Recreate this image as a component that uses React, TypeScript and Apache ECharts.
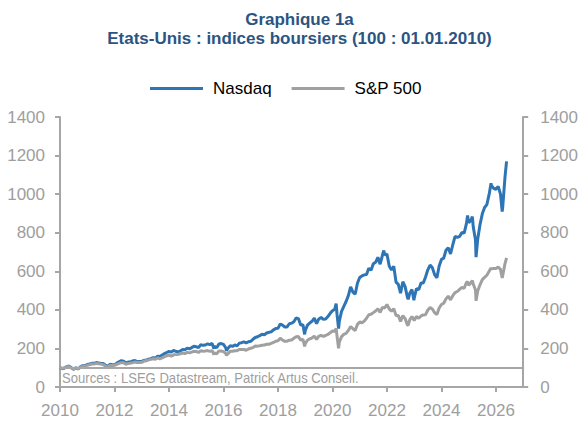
import React, { useEffect, useRef } from "react";
import * as echarts from "echarts";

const FONT = "'Liberation Sans Narrow', 'Arial Narrow', 'Liberation Sans', sans-serif";

// Month-end index levels (100 = 01.01.2010), first value = Dec 2009, then Jan 2010 ... Apr 2026
const nasdaqMonthly = [
  100,
  94.6, 98.6, 105.7, 108.5, 99.5, 92.9, 99.4, 93.2, 104.4, 110.5, 110.1, 116.9,
  119.0, 122.6, 122.6, 126.7, 124.9, 122.3, 121.5, 113.7, 106.4, 118.3, 115.5, 114.8,
  124.0, 130.8, 136.3, 134.2, 124.6, 129.4, 129.6, 135.2, 137.3, 131.2, 132.7, 133.1,
  138.5, 139.3, 144.0, 146.7, 152.3, 150.0, 159.8, 158.2, 166.2, 172.8, 178.9, 184.1,
  180.9, 189.9, 185.1, 181.4, 187.0, 194.3, 192.6, 201.9, 198.0, 204.1, 211.2, 208.7,
  204.3, 218.8, 216.0, 217.8, 223.4, 219.8, 226.0, 210.5, 203.6, 222.7, 225.2, 220.7,
  203.4, 200.9, 214.6, 210.4, 218.1, 213.4, 227.5, 229.8, 234.1, 228.7, 234.6, 237.2,
  247.5, 256.7, 260.6, 266.6, 273.2, 270.6, 279.8, 283.3, 286.3, 296.5, 303.0, 304.2,
  326.6, 320.5, 311.3, 311.4, 328.0, 331.0, 338.1, 357.4, 354.6, 322.0, 323.1, 292.4,
  320.9, 332.0, 340.6, 356.8, 328.5, 352.8, 360.3, 351.0, 352.5, 365.5, 381.9, 395.5,
  403.3, 377.6, 339.4, 391.8, 418.3, 443.3, 473.6, 519.0, 492.2, 480.9, 537.6, 568.0,
  576.1, 581.4, 583.8, 615.3, 606.0, 639.2, 646.7, 672.5, 636.8, 683.0, 684.8, 689.5,
  627.6, 606.0, 626.8, 543.6, 532.4, 486.1, 546.1, 520.8, 466.1, 484.3, 505.4, 461.3,
  510.6, 504.9, 538.7, 538.9, 570.1, 607.7, 632.3, 618.6, 582.6, 566.4, 627.0, 661.6,
  668.3, 709.2, 721.9, 690.1, 737.6, 781.5, 775.6, 780.7, 801.6, 797.5, 847.0, 851.1,
  865.0, 830.6, 762.4, 768.9, 842.4, 897.8, 930.9, 945.6, 998.7, 1045.6, 1029.8, 1024.3,
  1040, 1000, 935, 1090,
];

const spMonthly = [
  100,
  96.3, 99.0, 104.8, 106.5, 97.7, 92.5, 98.8, 94.1, 102.3, 106.1, 105.9, 112.8,
  115.3, 119.0, 118.9, 122.3, 120.6, 118.5, 115.9, 109.3, 101.4, 112.4, 111.8, 112.8,
  117.7, 122.5, 126.3, 125.4, 117.5, 122.2, 123.7, 126.2, 129.2, 126.6, 127.0, 127.9,
  134.3, 135.9, 140.7, 143.3, 146.3, 144.0, 151.2, 146.5, 150.9, 157.6, 162.0, 165.7,
  159.9, 166.7, 167.9, 169.0, 172.6, 175.8, 173.2, 179.6, 176.9, 181.0, 185.5, 184.7,
  178.9, 188.8, 185.5, 187.1, 189.0, 185.0, 188.7, 176.9, 172.2, 186.5, 186.5, 183.3,
  174.0, 173.3, 184.8, 185.2, 188.1, 188.3, 195.0, 194.7, 194.4, 190.7, 197.2, 200.8,
  204.4, 212.0, 211.9, 213.8, 216.3, 217.3, 221.5, 221.7, 225.9, 230.9, 237.5, 239.8,
  253.3, 243.4, 236.9, 237.5, 242.6, 243.8, 252.6, 260.3, 261.3, 243.2, 247.5, 224.8,
  242.5, 249.7, 254.2, 264.2, 246.8, 263.9, 267.3, 262.4, 267.0, 272.5, 281.7, 289.8,
  289.3, 264.9, 231.8, 261.2, 273.0, 278.0, 293.4, 313.9, 301.6, 293.3, 324.8, 336.9,
  333.1, 341.8, 356.3, 375.0, 377.0, 385.5, 394.2, 405.7, 386.4, 413.0, 409.6, 427.4,
  405.0, 392.3, 406.3, 370.6, 370.6, 339.5, 370.4, 354.7, 321.6, 347.3, 365.9, 344.4,
  365.7, 356.1, 368.5, 373.9, 374.9, 399.1, 411.6, 404.3, 384.6, 376.1, 409.7, 427.8,
  434.6, 457.0, 471.2, 451.7, 473.4, 489.7, 495.2, 506.6, 516.8, 511.7, 541.0, 527.5,
  541.8, 534.1, 503.3, 499.5, 530.2, 556.5, 568.5, 579.4, 599.8, 613.5, 614.3, 614.3,
  622, 610, 578, 640,
];

// Intra-month highs / lows [decimal year, index]
const nasdaqExtremes: [number, number][] = [
  [2010.505, 92.2], [2011.755, 102.9], [2015.65, 198.6], [2016.11, 188.1],
  [2018.98, 272.9], [2020.135, 432.7], [2020.225, 302.4], [2021.885, 707.7],
  [2022.78, 454.9], [2022.99, 450.1], [2024.96, 889.1], [2025.135, 883.9],
  [2025.27, 672.9], [2025.82, 1056], [2026.23, 910], [2026.39, 1170],
];
const spExtremes: [number, number][] = [
  [2010.505, 91.7], [2011.755, 98.6], [2015.65, 167.5], [2016.11, 164.0],
  [2018.98, 210.9], [2020.135, 303.7], [2020.225, 200.6], [2022.78, 320.8],
  [2024.96, 546.2], [2025.135, 551.0], [2025.27, 446.9], [2025.82, 617],
  [2026.23, 565], [2026.39, 670],
];

const startYear = 2010;
const yTicks = { min: 0, max: 1400, interval: 200 };
const xTicks = { min: 2010, max: 2027, interval: 2 };
const baseLevel = 100;

function buildSeries(monthly: number[], extremes: [number, number][]) {
  const pts: [number, number][] = monthly.map((v, i) => [startYear + i / 12, v]);
  return pts.concat(extremes).sort((a, b) => a[0] - b[0]);
}

const AXIS_COLOR = "#A6A6A6";
const LABEL_COLOR = "#9E9E9E";

export default function App() {
  const ref = useRef<HTMLDivElement>(null);
  useEffect(() => {
    if (!ref.current) return;
    const chart = echarts.init(ref.current, undefined, { renderer: "svg" });
    const yAxisBase = (position: "left" | "right", margin: number) => ({
      type: "value",
      position,
      min: yTicks.min,
      max: yTicks.max,
      interval: yTicks.interval,
      axisLine: { show: true, lineStyle: { color: AXIS_COLOR, width: 2 } },
      axisTick: { show: true, length: 5, lineStyle: { color: AXIS_COLOR, width: 2 } },
      axisLabel: {
        color: LABEL_COLOR,
        fontSize: 17,
        fontFamily: FONT,
        margin,
        formatter: (v: number) => String(v),
      },
      splitLine: { show: false },
    });
    chart.setOption({
      animation: false,
      grid: { left: 60, right: 53, top: 117, bottom: 34, containLabel: false },
      legend: {
        top: 75,
        left: 145,
        icon: "rect",
        itemWidth: 53,
        itemHeight: 3,
        itemGap: 20,
        textStyle: { fontSize: 17, color: "#000", fontFamily: FONT, padding: [0, 0, 0, 5] },
        data: ["Nasdaq", "S&P 500"],
      },
      xAxis: {
        type: "value",
        min: xTicks.min,
        max: xTicks.max,
        interval: xTicks.interval,
        axisLine: { show: true, onZero: false, lineStyle: { color: AXIS_COLOR, width: 2 } },
        axisTick: { show: true, length: 5, lineStyle: { color: AXIS_COLOR, width: 2 } },
        axisLabel: {
          color: LABEL_COLOR,
          fontSize: 17,
          fontFamily: FONT,
          margin: 15,
          showMaxLabel: false,
          formatter: (v: number) => ((v - xTicks.min) % xTicks.interval === 0 ? String(v) : ""),
        },
        splitLine: { show: false },
      },
      yAxis: [yAxisBase("left", 15), yAxisBase("right", 17)],
      graphic: [
        {
          type: "text",
          x: 299.5,
          y: 19,
          style: {
            text: "Graphique 1a",
            fontSize: 17,
            fontWeight: "bold",
            fontFamily: FONT,
            fill: "#2B5483",
            align: "center",
            verticalAlign: "middle",
          },
        },
        {
          type: "text",
          x: 299.5,
          y: 38,
          style: {
            text: "Etats-Unis : indices boursiers (100 : 01.01.2010)",
            fontSize: 17,
            fontWeight: "bold",
            fontFamily: FONT,
            fill: "#2B5483",
            align: "center",
            verticalAlign: "middle",
          },
        },
        {
          type: "text",
          x: 62,
          y: 370,
          scaleX: 0.873,
          style: {
            text: "Sources : LSEG Datastream, Patrick Artus Conseil.",
            fontSize: 15,
            fontFamily: FONT,
            fill: LABEL_COLOR,
            align: "left",
            verticalAlign: "top",
          },
        },
      ],
      series: [
        {
          name: "Nasdaq",
          type: "line",
          yAxisIndex: 0,
          showSymbol: false,
          symbol: "none",
          lineStyle: { width: 3, color: "#2E75B6" },
          itemStyle: { color: "#2E75B6" },
          data: buildSeries(nasdaqMonthly, nasdaqExtremes),
        },
        {
          name: "S&P 500",
          type: "line",
          yAxisIndex: 0,
          showSymbol: false,
          symbol: "none",
          lineStyle: { width: 3, color: "#A0A0A0" },
          itemStyle: { color: "#A0A0A0" },
          data: buildSeries(spMonthly, spExtremes),
          markLine: {
            silent: true,
            symbol: ["none", "none"],
            label: { show: false },
            lineStyle: { color: AXIS_COLOR, width: 2, type: "solid" },
            data: [{ yAxis: baseLevel }],
          },
        },
      ],
    });
    return () => chart.dispose();
  }, []);
  return (
    <div
      ref={ref}
      style={{ position: "fixed", left: 0, top: 0, width: 581, height: 421, background: "#fff" }}
    />
  );
}
